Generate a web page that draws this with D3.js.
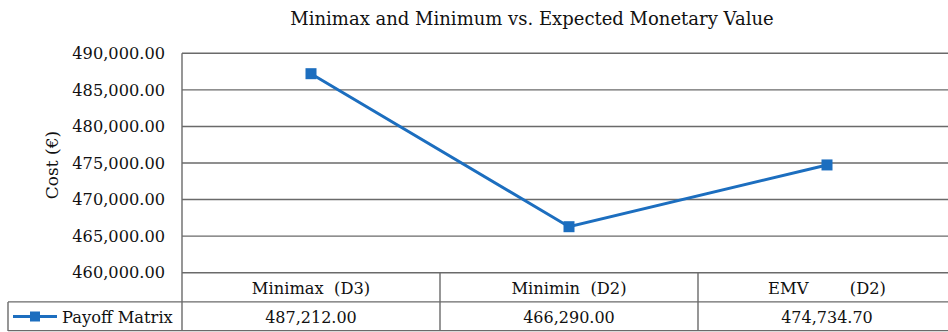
<!DOCTYPE html>
<html>
<head>
<meta charset="utf-8">
<script src="https://cdn.jsdelivr.net/npm/d3@7"></script>
<style>
  html, body { margin: 0; padding: 0; background: #fff; }
  svg text { font-family: "DejaVu Serif", serif; }
</style>
</head>
<body>
<svg id="chart" width="948" height="332" style="display:block"></svg>
<script>
const title = "Minimax and Minimum vs. Expected Monetary Value";
const yAxisLabel = "Cost (€)";
const categories = ["Minimax  (D3)", "Minimin  (D2)", "EMV        (D2)"];
const seriesName = "Payoff Matrix";
const values = [487212.00, 466290.00, 474734.70];
const yTicks = [460000, 465000, 470000, 475000, 480000, 485000, 490000];

(function () {
const svg = d3.select("#chart");
const pLeft = 182, pRight = 956, pTop = 53.3, pBottom = 272.7;
const rowH = 29.2;
const lineColor = "#1c6ebf";
const gridColor = "#6a6a6a";

const x = d3.scaleBand().domain(categories).range([pLeft, pRight]);
const y = d3.scaleLinear().domain([460000, 490000]).range([pBottom, pTop]);
const fmt = d3.format(",.2f");

svg.append("text").attr("x", 532).attr("y", 25).attr("text-anchor", "middle")
  .attr("font-size", 18).attr("fill", "#111").text(title);

svg.append("g").selectAll("line").data(yTicks).join("line")
  .attr("x1", pLeft).attr("x2", pRight)
  .attr("y1", d => y(d)).attr("y2", d => y(d))
  .attr("stroke", gridColor).attr("stroke-width", 1.4);

const yAxis = d3.axisLeft(y).tickValues(yTicks).tickFormat(fmt).tickSize(0).tickPadding(17);
const gy = svg.append("g").attr("transform", `translate(${pLeft},0)`).call(yAxis);
gy.select(".domain").remove();
gy.selectAll("text").attr("font-size", 16.2).attr("fill", "#111");

svg.append("text").attr("transform", `translate(58,${(pTop + pBottom) / 2 + 2}) rotate(-90)`)
  .attr("text-anchor", "middle").attr("font-size", 17).attr("fill", "#111").text(yAxisLabel);

const t = svg.append("g").attr("stroke", gridColor).attr("stroke-width", 1.4);
t.append("line").attr("x1", pLeft).attr("x2", pLeft).attr("y1", pTop).attr("y2", pBottom + 2 * rowH);
t.append("line").attr("x1", 8).attr("x2", pRight).attr("y1", pBottom + rowH).attr("y2", pBottom + rowH);
t.append("line").attr("x1", 8).attr("x2", pRight).attr("y1", pBottom + 2 * rowH - 0.5).attr("y2", pBottom + 2 * rowH - 0.5);
t.append("line").attr("x1", 8).attr("x2", 8).attr("y1", pBottom + rowH).attr("y2", pBottom + 2 * rowH);
t.selectAll("line.div").data(categories.slice(1)).join("line").attr("class", "div")
  .attr("x1", d => x(d)).attr("x2", d => x(d))
  .attr("y1", pBottom).attr("y2", pBottom + 2 * rowH);

svg.append("g").selectAll("text").data(categories).join("text")
  .attr("x", d => x(d) + x.bandwidth() / 2).attr("y", pBottom + 21)
  .attr("text-anchor", "middle").attr("font-size", 16.3).attr("fill", "#111")
  .style("white-space", "pre").text(d => d);

svg.append("g").selectAll("text").data(values).join("text")
  .attr("x", (d, i) => x(categories[i]) + x.bandwidth() / 2).attr("y", pBottom + rowH + 21)
  .attr("text-anchor", "middle").attr("font-size", 16).attr("fill", "#111")
  .text(d => fmt(d));

const ly = pBottom + rowH * 1.5;
svg.append("line").attr("x1", 13).attr("x2", 57).attr("y1", ly).attr("y2", ly)
  .attr("stroke", lineColor).attr("stroke-width", 3);
svg.append("rect").attr("x", 30).attr("y", ly - 5).attr("width", 10).attr("height", 10).attr("fill", lineColor);
svg.append("text").attr("x", 62).attr("y", ly + 6.5).attr("font-size", 16.3).attr("fill", "#111").text(seriesName);

const pts = values.map((v, i) => [x(categories[i]) + x.bandwidth() / 2, y(v)]);
svg.append("path").attr("d", d3.line()(pts)).attr("fill", "none")
  .attr("stroke", lineColor).attr("stroke-width", 3);
svg.append("g").selectAll("rect").data(pts).join("rect")
  .attr("x", d => d[0] - 5.5).attr("y", d => d[1] - 5.5)
  .attr("width", 11).attr("height", 11).attr("fill", lineColor);
})();
</script>
</body>
</html>
